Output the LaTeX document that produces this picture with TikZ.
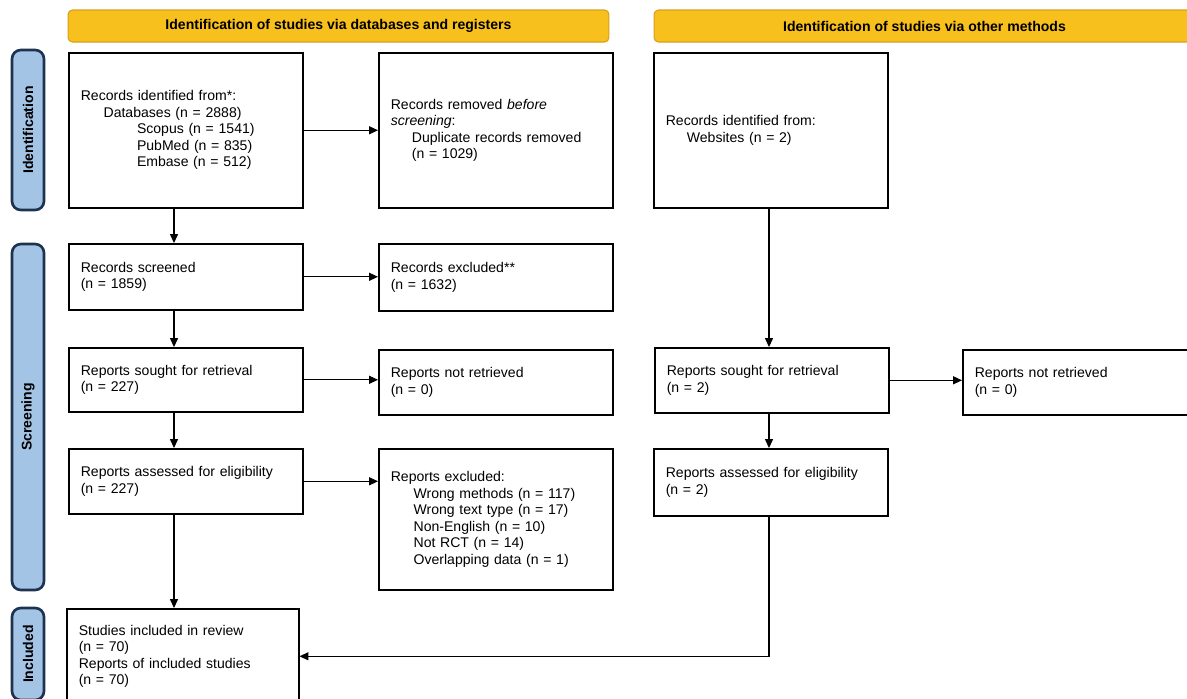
\documentclass[tikz,border=0pt]{standalone}
\usepackage{fontspec}
\setmainfont{Liberation Sans}
\usetikzlibrary{arrows.meta}

\definecolor{headgold}{HTML}{F8C01C}
\definecolor{headedge}{HTML}{D6A01E}
\definecolor{sidefill}{HTML}{A4C4E6}
\definecolor{sideedge}{HTML}{1E3350}

\tikzset{
  rec/.style={draw, line width=0.9pt, anchor=north west, align=left,
    inner xsep=0.24cm, inner ysep=0pt, text width=4.2cm,
    font=\fontsize{8}{9.4}\selectfont},
  head/.style={draw=headedge, fill=headgold, rounded corners=2.5pt,
    line width=0.6pt, minimum width=10.82cm, minimum height=0.64cm,
    font=\fontsize{8}{9.4}\selectfont\bfseries},
  side/.style={draw=sideedge, fill=sidefill, rounded corners=5pt,
    line width=1.5pt, rotate=90, minimum height=0.64cm,
    font=\fontsize{8}{9.4}\selectfont\bfseries},
  arr/.style={-{Triangle[length=5pt,width=4.5pt]}, line width=0.6pt},
}

\begin{document}
\begin{tikzpicture}[x=0.02cm, y=-0.02cm]

\useasboundingbox (0,0) rectangle (1187,698);
\clip (0,0) rectangle (1187,698);

% headers
\node[head] (headdb) at (338.5,26) {Identification of studies via databases and registers};
\node[head] (headoth) at (924.5,26) {Identification of studies via other methods};

% phase bars
\node[side, minimum width=3.2cm] (phid) at (28,130) {Identification};
\node[side, minimum width=6.92cm] (phscr) at (28,417) {Screening};
\node[side, minimum width=1.84cm] (phinc) at (28,654) {Included};

% databases column
\node[rec, minimum height=3.1cm] (recid) at (68,52)
  {Records identified from*:\\
   \hspace*{13pt}Databases (n = 2888)\\
   \hspace*{32pt}Scopus (n = 1541)\\
   \hspace*{32pt}PubMed (n = 835)\\
   \hspace*{32pt}Embase (n = 512)};
\node[rec, minimum height=3.1cm] (recrem) at (378,52)
  {Records removed \textit{before}\\
   \textit{screening}:\\
   \hspace*{12pt}Duplicate records removed\\
   \hspace*{12pt}(n = 1029)};
\node[rec, minimum height=1.32cm] (recscr) at (68,243)
  {Records screened\\(n = 1859)};
\node[rec, minimum height=1.34cm] (recexc) at (378,243)
  {Records excluded**\\(n = 1632)};
\node[rec, minimum height=1.28cm] (repsou) at (68,347)
  {Reports sought for retrieval\\(n = 227)};
\node[rec, minimum height=1.3cm] (repnot) at (378,349)
  {Reports not retrieved\\(n = 0)};
\node[rec, minimum height=1.3cm] (repass) at (68,448)
  {Reports assessed for eligibility\\(n = 227)};
\node[rec, minimum height=2.82cm] (repexc) at (378,448)
  {Reports excluded:\\
   \hspace*{13pt}Wrong methods (n = 117)\\
   \hspace*{13pt}Wrong text type (n = 17)\\
   \hspace*{13pt}Non-English (n = 10)\\
   \hspace*{13pt}Not RCT (n = 14)\\
   \hspace*{13pt}Overlapping data (n = 1)};
\node[rec, text width=4.16cm, minimum height=1.9cm] (studinc) at (66,608)
  {Studies included in review\\
   (n = 70)\\
   Reports of included studies\\
   (n = 70)};

% other methods column
\node[rec, minimum height=3.1cm] (webid) at (653,52)
  {Records identified from:\\
   \hspace*{12pt}Websites (n = 2)};
\node[rec, minimum height=1.3cm] (websou) at (654,347)
  {Reports sought for retrieval\\(n = 2)};
\node[rec, minimum height=1.3cm] (webnot) at (962,349)
  {Reports not retrieved\\(n = 0)};
\node[rec, minimum height=1.34cm] (webass) at (653,448)
  {Reports assessed for eligibility\\(n = 2)};

% connectors
\coordinate (colA) at (174,0);
\coordinate (colB) at (769,0);
\draw[arr] (recid.east) -- (recid.east -| recrem.west);
\draw[arr] (recid.south -| colA) -- (recscr.north -| colA);
\draw[arr] (recscr.east) -- (recscr.east -| recexc.west);
\draw[arr] (recscr.south -| colA) -- (repsou.north -| colA);
\draw[arr] (repsou.east) -- (repsou.east -| repnot.west);
\draw[arr] (repsou.south -| colA) -- (repass.north -| colA);
\draw[arr] (repass.east) -- (repass.east -| repexc.west);
\draw[arr] (repass.south -| colA) -- (studinc.north -| colA);

\draw[arr] (webid.south -| colB) -- (websou.north -| colB);
\draw[arr] (websou.east) -- (websou.east -| webnot.west);
\draw[arr] (websou.south -| colB) -- (webass.north -| colB);
\draw[arr] (webass.south -| colB) |- (studinc.east);

\end{tikzpicture}
\end{document}
